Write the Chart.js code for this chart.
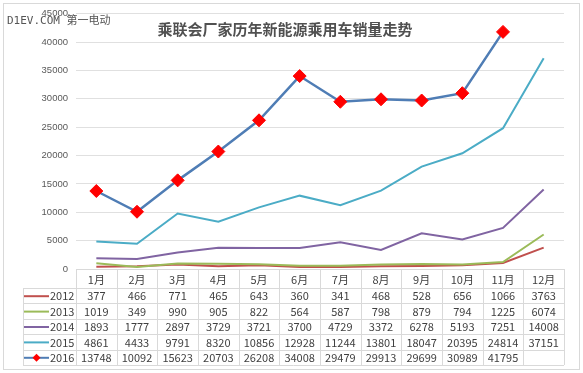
<!DOCTYPE html>
<html>
<head>
<meta charset="utf-8">
<script src="https://cdn.jsdelivr.net/npm/chart.js@4"></script>
<style>
  html, body { margin: 0; padding: 0; background: #fff; }
  canvas { display: block; }
</style>
</head>
<body>
<canvas id="c" width="583" height="373"></canvas>
<script>
const titleText = '乘联会厂家历年新能源乘用车销量走势';
const watermarkText = 'D1EV.COM 第一电动';
const months = ['1月','2月','3月','4月','5月','6月','7月','8月','9月','10月','11月','12月'];
const seriesNames = ['2012','2013','2014','2015','2016'];
const s2012 = [377, 466, 771, 465, 643, 360, 341, 468, 528, 656, 1066, 3763];
const s2013 = [1019, 349, 990, 905, 822, 564, 587, 798, 879, 794, 1225, 6074];
const s2014 = [1893, 1777, 2897, 3729, 3721, 3700, 4729, 3372, 6278, 5193, 7251, 14008];
const s2015 = [4861, 4433, 9791, 8320, 10856, 12928, 11244, 13801, 18047, 20395, 24814, 37151];
const s2016 = [13748, 10092, 15623, 20703, 26208, 34008, 29479, 29913, 29699, 30989, 41795];
const yMin = 0, yMax = 45000, yStep = 5000;

const colors = ['#C0504D', '#9BBB59', '#8064A2', '#4BACC6', '#4F7DB5'];
const allSeries = [s2012, s2013, s2014, s2015, s2016];

const FONT_CJK = '"Noto Sans CJK SC", "Noto Sans", sans-serif';

const datasets = allSeries.map((d, i) => {
  const isLast = i === 4;
  return {
    label: seriesNames[i],
    data: d,
    borderColor: colors[i],
    backgroundColor: colors[i],
    borderWidth: isLast ? 2.5 : 2,
    tension: 0,
    pointRadius: isLast ? 6.5 : 0,
    pointHoverRadius: isLast ? 6.5 : 0,
    pointStyle: 'rectRot',
    pointBackgroundColor: '#FF0000',
    pointBorderColor: '#FF0000',
    pointBorderWidth: 1,
    order: 4 - i
  };
});

const decorPlugin = {
  id: 'decor',
  beforeDraw(chart) {
    const ctx = chart.ctx;
    ctx.save();
    ctx.strokeStyle = '#d9d9d9';
    ctx.lineWidth = 1;
    ctx.strokeRect(3.5, 3.5, chart.width - 7, chart.height - 7);
    ctx.restore();
  },
  afterDraw(chart) {
    const ctx = chart.ctx;
    const xs = chart.scales.x;
    const area = chart.chartArea;
    const n = months.length;
    const colW = (xs.right - xs.left) / n;
    const top = area.bottom;
    const headerH = 19;
    const rowH = 15.4;
    const legendLeft = 23;
    const tableBottom = top + headerH + rowH * seriesNames.length;

    ctx.save();
    ctx.strokeStyle = '#d9d9d9';
    ctx.lineWidth = 1;
    ctx.beginPath();
    ctx.moveTo(xs.left, Math.round(top) + 0.5);
    ctx.lineTo(xs.right, Math.round(top) + 0.5);
    for (let k = 0; k <= seriesNames.length; k++) {
      const y = Math.round(top + headerH + k * rowH) + 0.5;
      ctx.moveTo(legendLeft, y);
      ctx.lineTo(xs.right, y);
    }
    for (let i = 0; i <= n; i++) {
      const x = Math.round(xs.left + i * colW) + 0.5;
      ctx.moveTo(x, top);
      ctx.lineTo(x, tableBottom);
    }
    ctx.moveTo(legendLeft + 0.5, top + headerH);
    ctx.lineTo(legendLeft + 0.5, tableBottom);
    ctx.stroke();

    ctx.fillStyle = '#404040';
    ctx.textAlign = 'center';
    ctx.textBaseline = 'middle';
    ctx.font = '11px ' + FONT_CJK;
    months.forEach((m, i) => {
      ctx.fillText(m, xs.getPixelForValue(i), top + headerH / 2 + 1);
    });

    allSeries.forEach((d, r) => {
      const yc = top + headerH + rowH * (r + 0.5) + 0.5;
      ctx.strokeStyle = colors[r];
      ctx.lineWidth = 2;
      ctx.beginPath();
      ctx.moveTo(legendLeft + 1, yc);
      ctx.lineTo(legendLeft + 26, yc);
      ctx.stroke();
      if (r === 4) {
        const cx = legendLeft + 13.5, rr = 4;
        ctx.fillStyle = '#FF0000';
        ctx.beginPath();
        ctx.moveTo(cx - rr, yc);
        ctx.lineTo(cx, yc - rr);
        ctx.lineTo(cx + rr, yc);
        ctx.lineTo(cx, yc + rr);
        ctx.closePath();
        ctx.fill();
      }
      ctx.fillStyle = '#404040';
      ctx.textAlign = 'left';
      ctx.font = '11px ' + FONT_CJK;
      ctx.fillText(seriesNames[r], legendLeft + 27, yc);
      ctx.textAlign = 'center';
      for (let i = 0; i < n; i++) {
        if (d[i] === undefined || d[i] === null) continue;
        ctx.fillText(String(d[i]), xs.getPixelForValue(i), yc);
      }
    });

    ctx.fillStyle = '#505050';
    ctx.textAlign = 'center';
    ctx.textBaseline = 'middle';
    ctx.font = 'bold 15px ' + FONT_CJK;
    ctx.fillText(titleText, 285, 29);

    ctx.fillStyle = '#555555';
    ctx.textAlign = 'left';
    ctx.font = '11px "DejaVu Sans Mono", "Noto Sans CJK SC", monospace';
    ctx.fillText(watermarkText, 7, 21);
    ctx.restore();
  }
};

new Chart(document.getElementById('c'), {
  type: 'line',
  data: { labels: months, datasets },
  options: {
    responsive: false,
    devicePixelRatio: 1,
    animation: false,
    events: [],
    layout: { padding: { top: 13.6, bottom: 104, left: 0, right: 19 } },
    plugins: {
      legend: { display: false },
      title: { display: false },
      tooltip: { enabled: false }
    },
    scales: {
      x: {
        type: 'category',
        offset: true,
        display: false
      },
      y: {
        min: yMin,
        max: yMax,
        ticks: {
          stepSize: yStep,
          padding: 8,
          color: '#595959',
          font: { size: 9.5, family: 'Liberation Sans, Arial, sans-serif' },
          callback: (v) => String(v)
        },
        grid: { color: '#e0e0e0', drawTicks: false, lineWidth: 1 },
        border: { display: false },
        afterFit(scale) { scale.width = 76; }
      }
    }
  },
  plugins: [decorPlugin]
});
</script>
</body>
</html>
